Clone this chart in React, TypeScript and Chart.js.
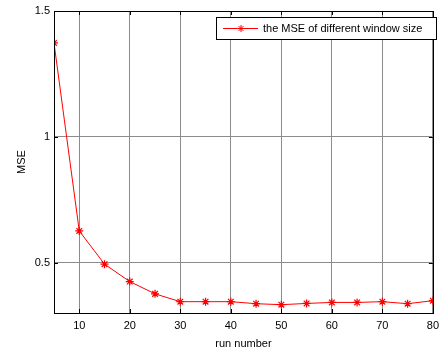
import React, { useEffect, useRef } from "react";
import { Chart, registerables } from "chart.js";

Chart.register(...registerables);

const runNumbers = [5, 10, 15, 20, 25, 30, 35, 40, 45, 50, 55, 60, 65, 70, 75, 80];
const mseValues = [1.373, 0.626, 0.494, 0.425, 0.376, 0.345, 0.345, 0.345, 0.337, 0.333, 0.338, 0.342, 0.342, 0.345, 0.337, 0.349];
const xTicks = [10, 20, 30, 40, 50, 60, 70, 80];
const yTicks = [0.5, 1, 1.5];
const seriesLabel = "the MSE of different window size";
const xTitle = "run number";
const yTitle = "MSE";

const FONT = "'Liberation Sans', Arial, sans-serif";

function drawStar(ctx: CanvasRenderingContext2D, x: number, y: number, r: number) {
  ctx.beginPath();
  for (let i = 0; i < 4; i++) {
    const a = (i * Math.PI) / 4;
    ctx.moveTo(x - r * Math.cos(a), y - r * Math.sin(a));
    ctx.lineTo(x + r * Math.cos(a), y + r * Math.sin(a));
  }
  ctx.stroke();
}

const framePlugin = {
  id: "frame",
  afterDraw(chart: any) {
    const { ctx, chartArea: a, scales } = chart;
    ctx.save();
    ctx.strokeStyle = "#000";
    ctx.lineWidth = 1;
    ctx.strokeRect(Math.round(a.left) + 0.5, Math.round(a.top) + 0.5, Math.round(a.right - a.left), Math.round(a.bottom - a.top));
    ctx.beginPath();
    for (const v of xTicks) {
      const px = Math.round(scales.x.getPixelForValue(v)) + 0.5;
      ctx.moveTo(px, a.bottom);
      ctx.lineTo(px, a.bottom - 4);
      ctx.moveTo(px, a.top);
      ctx.lineTo(px, a.top + 4);
    }
    for (const v of yTicks) {
      const py = Math.round(scales.y.getPixelForValue(v)) + 0.5;
      ctx.moveTo(a.left, py);
      ctx.lineTo(a.left + 4, py);
      ctx.moveTo(a.right, py);
      ctx.lineTo(a.right - 4, py);
    }
    ctx.stroke();
    const lx = 216, ly = 17, lw = 220, lh = 22;
    ctx.fillStyle = "#fff";
    ctx.fillRect(lx, ly, lw, lh);
    ctx.strokeStyle = "#000";
    ctx.strokeRect(lx + 0.5, ly + 0.5, lw, lh);
    ctx.strokeStyle = "#ff0000";
    ctx.beginPath();
    ctx.moveTo(223, 28.5);
    ctx.lineTo(258, 28.5);
    ctx.stroke();
    drawStar(ctx, 241, 28.5, 3.5);
    ctx.fillStyle = "#000";
    ctx.font = `11px ${FONT}`;
    ctx.textBaseline = "middle";
    ctx.textAlign = "left";
    ctx.fillText(seriesLabel, 263, 29);
    ctx.restore();
  },
};

export default function App() {
  const ref = useRef<HTMLCanvasElement>(null);
  useEffect(() => {
    document.body.style.margin = "0";
    const chart = new Chart(ref.current!, {
      type: "line",
      data: {
        datasets: [
          {
            label: seriesLabel,
            data: runNumbers.map((x, i) => ({ x, y: mseValues[i] })),
            borderColor: "#ff0000",
            backgroundColor: "#ff0000",
            borderWidth: 1,
            pointStyle: "star",
            pointRadius: 4,
            pointBorderWidth: 1.2,
            pointBorderColor: "#ff0000",
            tension: 0,
          },
        ],
      },
      options: {
        animation: false,
        responsive: false,
        layout: { padding: { left: 15, top: 11, right: 5, bottom: 0 } },
        plugins: { legend: { display: false }, tooltip: { enabled: false } },
        scales: {
          x: {
            type: "linear",
            min: 5,
            max: 80,
            afterBuildTicks: (s: any) => {
              s.ticks = xTicks.map((v) => ({ value: v }));
            },
            afterFit: (s: any) => {
              s.height = 38;
            },
            grid: { color: "#8c8c8c", drawTicks: false, lineWidth: 1 },
            border: { display: false },
            ticks: { color: "#000", font: { family: FONT, size: 11 }, padding: 6, maxRotation: 0, autoSkip: false },
            title: { display: true, text: xTitle, color: "#000", font: { family: FONT, size: 11 }, padding: { top: 2, bottom: 0 } },
          },
          y: {
            type: "linear",
            min: 0.3,
            max: 1.5,
            afterBuildTicks: (s: any) => {
              s.ticks = yTicks.map((v) => ({ value: v }));
            },
            afterFit: (s: any) => {
              s.width = 39;
            },
            grid: { color: "#8c8c8c", drawTicks: false, lineWidth: 1 },
            border: { display: false },
            ticks: {
              color: "#000",
              font: { family: FONT, size: 11 },
              padding: 4,
              callback: (v: any) => String(v),
            },
            title: { display: true, text: yTitle, color: "#000", font: { family: FONT, size: 11 }, padding: { top: 0, bottom: 0 } },
          },
        },
      },
      plugins: [framePlugin],
    });
    return () => chart.destroy();
  }, []);
  return <canvas ref={ref} width={445} height={351} style={{ display: "block" }} />;
}
